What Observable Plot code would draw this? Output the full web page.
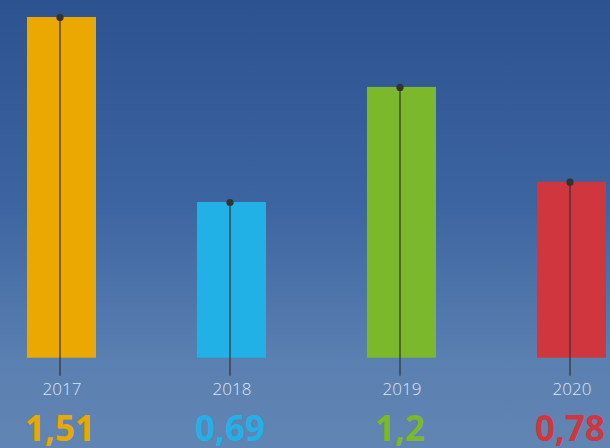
<!DOCTYPE html>
<html>
<head>
<meta charset="utf-8">
<script src="https://cdn.jsdelivr.net/npm/d3@7"></script>
<script src="https://cdn.jsdelivr.net/npm/@observablehq/plot@0.6"></script>
<style>
  html, body { margin: 0; padding: 0; width: 610px; height: 448px; overflow: hidden; }
  body { background: linear-gradient(to bottom, #2c5390 0%, #3c64a0 45%, #5a80b1 80%, #6185b3 100%); }
  svg { display: block; }
</style>
</head>
<body>
<div id="chart"></div>
<script>
const years = ["2017", "2018", "2019", "2020"];
const values = [1.51, 0.69, 1.2, 0.78];
const colors = ["#eaa800", "#22b1e6", "#7bb82c", "#d0363e"];

const data = years.map((y, i) => ({year: y, value: values[i], color: colors[i], label: String(values[i]).replace(".", ",")}));

const chart = Plot.plot({
  width: 610,
  height: 448,
  marginTop: 0, marginBottom: 0, marginLeft: 0, marginRight: 0,
  style: {background: "transparent", fontFamily: "'Open Sans', sans-serif", overflow: "visible"},
  x: {type: "band", domain: years, range: [26.7, 606.7], paddingInner: 0.595, paddingOuter: 0, axis: null},
  y: {domain: [0, 1.51], range: [357.7, 17], axis: null},
  marks: [
    Plot.barY(data, {x: "year", y: "value", fill: "color"}),
    Plot.ruleX(data, {x: "year", y1: "value", y2: 0, dx: -2, insetBottom: -18, stroke: "#333", strokeOpacity: 0.75, strokeWidth: 1.6}),
    Plot.dot(data, {x: "year", y: "value", dx: -2, r: 3.6, fill: "#333", stroke: "none"}),
    Plot.text(data, {x: "year", y: 0, text: "year", dy: 31, fill: "#dfe6f0", fontSize: 17, fontWeight: 300, lineAnchor: "middle"}),
    Plot.text(data, {x: "year", y: 0, text: "label", dx: -2, dy: 72, fill: "color", fontSize: 35, fontWeight: 700, lineAnchor: "middle"})
  ]
});
document.getElementById("chart").appendChild(chart);
</script>
</body>
</html>
